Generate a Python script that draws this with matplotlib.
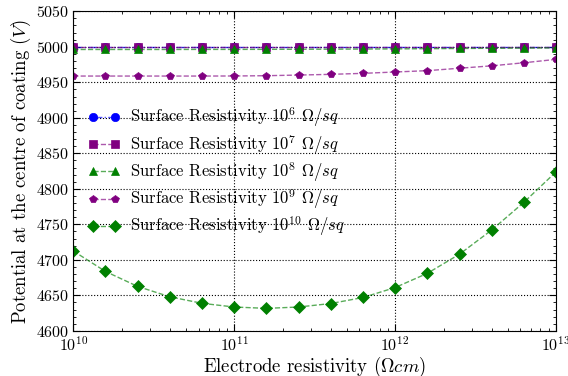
import matplotlib
matplotlib.use("Agg")
import matplotlib.pyplot as plt
from matplotlib.colors import to_rgba
from matplotlib.ticker import MultipleLocator
import numpy as np

plt.rcParams["font.family"] = "serif"
plt.rcParams["font.serif"] = ["cmr10"]
plt.rcParams["mathtext.fontset"] = "cm"
plt.rcParams["axes.formatter.use_mathtext"] = True
plt.rcParams["axes.unicode_minus"] = False

# electrode resistivity (Ohm cm), every 0.2 decade
exponents = [10.0, 10.2, 10.4, 10.6, 10.8, 11.0, 11.2, 11.4, 11.6, 11.8,
             12.0, 12.2, 12.4, 12.6, 12.8, 13.0]
res_e = [10 ** e for e in exponents]

v_1e6 = [4999.9] * 16
v_1e7 = [4999.9] * 16
v_1e8 = [4996.2, 4996.2, 4996.2, 4996.2, 4996.3, 4996.3, 4996.4, 4996.5,
         4996.6, 4996.8, 4997.0, 4997.3, 4997.6, 4997.9, 4998.2, 4998.5]
v_1e9 = [4958.8, 4958.8, 4958.8, 4958.8, 4958.8, 4958.9, 4959.3, 4960.2,
         4961.2, 4962.6, 4964.5, 4966.4, 4969.8, 4973.2, 4977.5, 4982.3]
v_1e10 = [4712.5, 4683.7, 4662.6, 4648.0, 4638.8, 4633.6, 4631.7, 4633.6,
          4638.5, 4647.0, 4661.0, 4681.0, 4708.0, 4742.0, 4781.0, 4824.0]

series = [
    (v_1e6, "blue", "o", "-.", r"Surface Resistivity $10^6$ $\Omega/sq$"),
    (v_1e7, "purple", "s", "--", r"Surface Resistivity $10^7$ $\Omega/sq$"),
    (v_1e8, "green", "^", "--", r"Surface Resistivity $10^8$ $\Omega/sq$"),
    (v_1e9, "purple", "p", "--", r"Surface Resistivity $10^9$ $\Omega/sq$"),
    (v_1e10, "green", "D", "--", r"Surface Resistivity $10^{10}$ $\Omega/sq$"),
]

fig, ax = plt.subplots(figsize=(5.68, 3.76), dpi=100)
for vals, col, mk, ls, lab in series:
    ax.plot(res_e, vals, linestyle=ls, color=to_rgba(col, 0.65), marker=mk,
            markersize=6, markerfacecolor=col, markeredgecolor=col,
            markeredgewidth=0.5, linewidth=1.0, label=lab)

ax.set_xscale("log")
ax.set_xlim(1e10, 1e13)
ax.set_ylim(4600, 5050)
ax.set_yticks(np.arange(4600, 5051, 50))
ax.yaxis.set_minor_locator(MultipleLocator(10))
ax.grid(True, color="black", linestyle=":", linewidth=0.8)
ax.tick_params(which="both", direction="in", top=True, right=True,
               labelsize=11.5)
ax.tick_params(axis="x", pad=3)
ax.tick_params(axis="y", pad=3)
ax.tick_params(which="major", length=5)
ax.tick_params(which="minor", length=2.5)
ax.set_xlabel(r"Electrode resistivity ($\Omega cm$)", fontsize=13.5,
              labelpad=1)
ax.set_ylabel(r"Potential at the centre of coating ($V$)", fontsize=13.5,
              labelpad=2)
ax.legend(loc="center left", bbox_to_anchor=(0.0, 0.497), frameon=False,
          numpoints=2, fontsize=12, handlelength=1.9, handletextpad=0.6,
          labelspacing=0.2)

fig.subplots_adjust(left=0.129, right=0.979, top=0.97, bottom=0.12)
fig.savefig("out.png", dpi=100)
